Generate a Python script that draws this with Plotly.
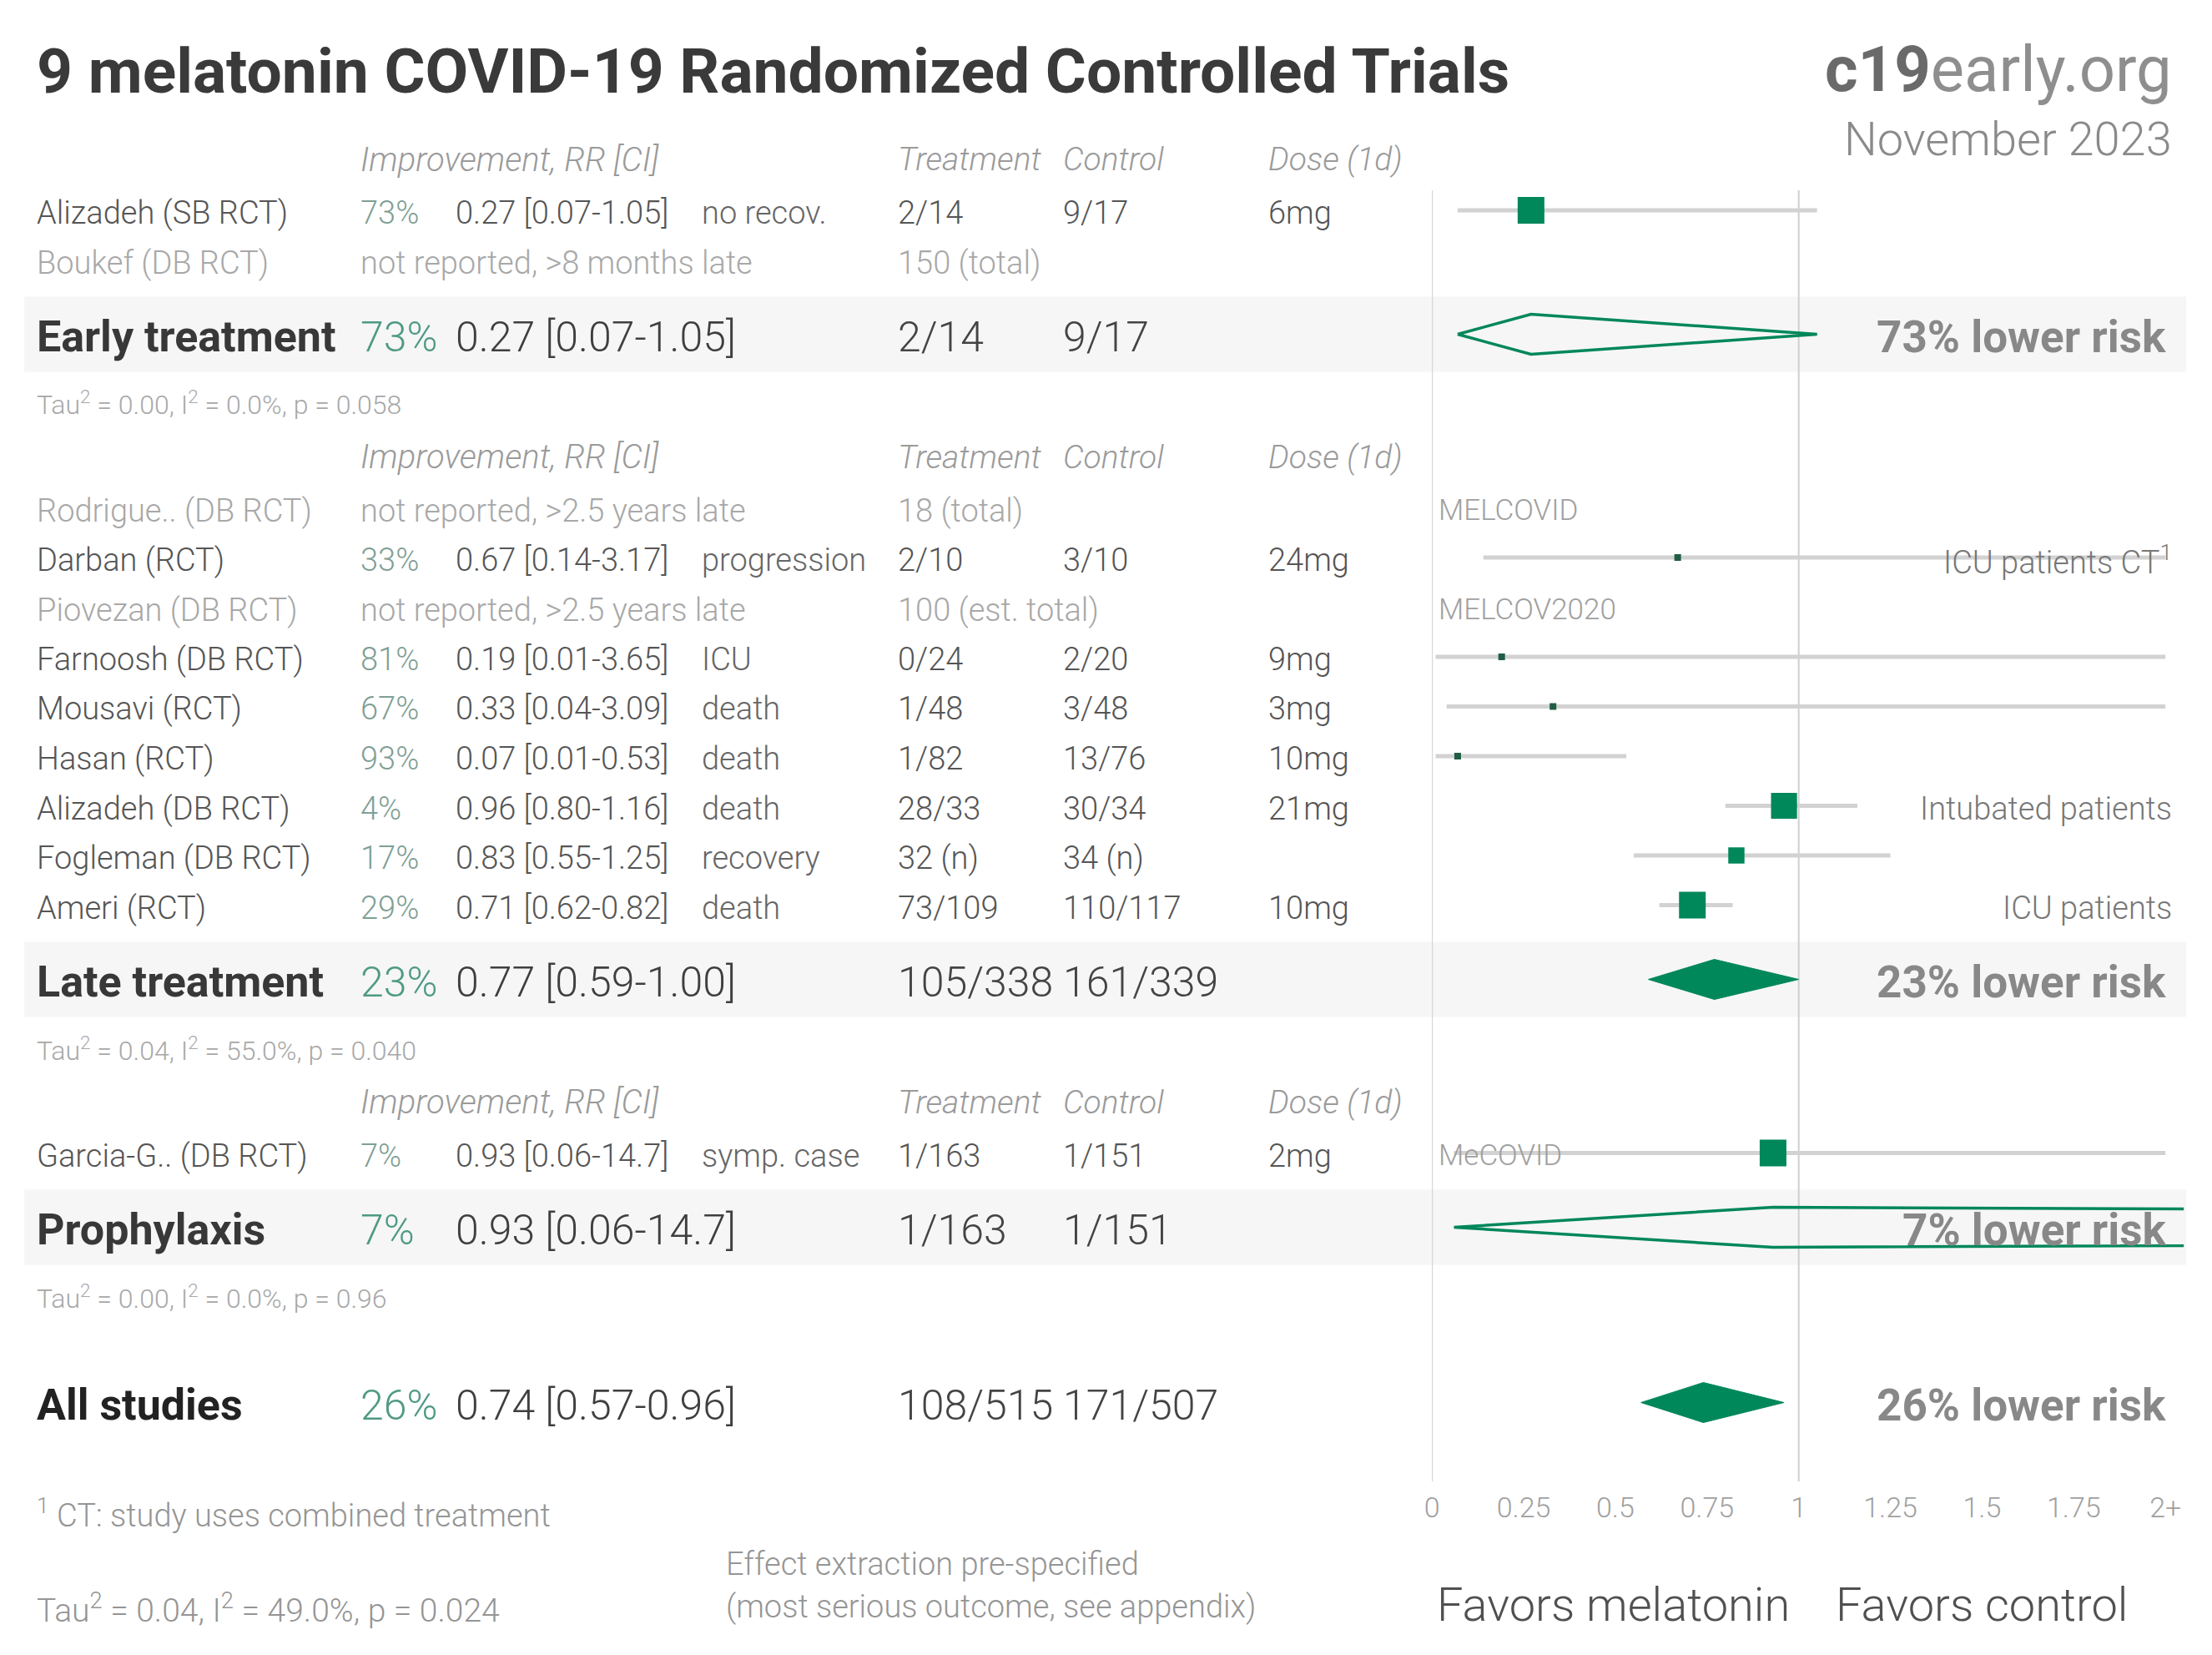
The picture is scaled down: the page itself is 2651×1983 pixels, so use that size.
import plotly.graph_objects as go

W, H = 2651, 1983

# ---------------- data ----------------
study_names = ["Alizadeh (SB RCT)", "Boukef (DB RCT)",
               "Rodrigue.. (DB RCT)", "Darban (RCT)", "Piovezan (DB RCT)", "Farnoosh (DB RCT)",
               "Mousavi (RCT)", "Hasan (RCT)", "Alizadeh (DB RCT)", "Fogleman (DB RCT)", "Ameri (RCT)",
               "Garcia-G.. (DB RCT)"]
study_group = [0, 0, 1, 1, 1, 1, 1, 1, 1, 1, 1, 2]
study_impr = ["73%", "", "", "33%", "", "81%", "67%", "93%", "4%", "17%", "29%", "7%"]
study_rr = [0.27, None, None, 0.67, None, 0.19, 0.33, 0.07, 0.96, 0.83, 0.71, 0.93]
study_lo = [0.07, None, None, 0.14, None, 0.01, 0.04, 0.01, 0.80, 0.55, 0.62, 0.06]
study_hi = [1.05, None, None, 3.17, None, 3.65, 3.09, 0.53, 1.16, 1.25, 0.82, 14.7]
study_outcome = ["no recov.", "", "", "progression", "", "ICU", "death", "death", "death",
                 "recovery", "death", "symp. case"]
study_treat = ["2/14", "150 (total)", "18 (total)", "2/10", "100 (est. total)", "0/24", "1/48",
               "1/82", "28/33", "32 (n)", "73/109", "1/163"]
study_ctrl = ["9/17", "", "", "3/10", "", "2/20", "3/48", "13/76", "30/34", "34 (n)", "110/117", "1/151"]
study_dose = ["6mg", "", "", "24mg", "", "9mg", "3mg", "10mg", "21mg", "", "10mg", "2mg"]
study_pending = ["", "not reported, >8 months late", "not reported, >2.5 years late", "",
                 "not reported, >2.5 years late", "", "", "", "", "", "", ""]
study_trial = ["", "", "MELCOVID", "", "MELCOV2020", "", "", "", "", "", "", "MeCOVID"]
study_note = ["", "", "", "ICU patients CT<sup>1</sup>", "", "", "", "", "Intubated patients", "",
              "ICU patients", ""]
study_weight = [100, 0, 0, 1.5, 0, 0.8, 1.2, 1.5, 36, 14, 38, 100]

group_names = ["Early treatment", "Late treatment", "Prophylaxis", "All studies"]
group_impr = ["73%", "23%", "7%", "26%"]
group_rr = [0.27, 0.77, 0.93, 0.74]
group_lo = [0.07, 0.59, 0.06, 0.57]
group_hi = [1.05, 1.00, 14.7, 0.96]
group_treat = ["2/14", "105/338", "1/163", "108/515"]
group_ctrl = ["9/17", "161/339", "1/151", "171/507"]
group_risk = ["73% lower risk", "23% lower risk", "7% lower risk", "26% lower risk"]
group_tau2 = ["0.00", "0.04", "0.00", "0.04"]
group_i2 = ["0.0%", "55.0%", "0.0%", "49.0%"]
group_p = [0.058, 0.040, 0.96, 0.024]
group_p_text = ["0.058", "0.040", "0.96", "0.024"]

tick_vals = [0, 0.25, 0.5, 0.75, 1, 1.25, 1.5, 1.75, 2]
tick_text = ["0", "0.25", "0.5", "0.75", "1", "1.25", "1.5", "1.75", "2+"]

title_text = "9 melatonin COVID-19 Randomized Controlled Trials"
col_headers = ["Improvement, RR [CI]", "Treatment", "Control", "Dose (1d)"]

# ---------------- layout helpers ----------------
FONT = "Roboto, 'Noto Sans', sans-serif"
GREEN = "#00875a"
TX = -9  # text side-bearing compensation
TY = 3   # text baseline compensation
X_NAME, X_IMPR, X_RR, X_OUT, X_TRT, X_CTL, X_DOSE = 42, 431, 546, 842, 1078, 1276, 1523
X_AXIS0, PX_PER_UNIT = 1713, 441
AX_MAX = 2.05
PLOT_BOTTOM = 1775
ROW_FONT = 38
SUM_FONT = 50
LIGHT = 300

annotations = []


def ann(text, x, y, size, color, anchor="left", bold=False, italic=False, weight=LIGHT):
    if not text:
        return
    if bold:
        weight = 700
    if italic:
        text = "<i>" + text + "</i>"
    annotations.append(dict(text=text, x=(x + TX) / W, y=1 - (y + TY) / H, xref="paper", yref="paper",
                            xanchor=anchor, yanchor="middle", showarrow=False,
                            font=dict(family=FONT, size=size, color=color, weight=weight)))


# row positions
study_y = []
header_y = []
summary_y = []
tau_y = []
y = 188
for g in range(3):
    header_y.append(y)
    y += 64
    members = [i for i, gg in enumerate(study_group) if gg == g]
    for i in members:
        study_y.append(y)
        y += 59.5
    y -= 59.5
    summary_y.append(y + 89)
    tau_y.append(y + 89 + 80)
    y = y + 89 + 80 + 64
summary_y.append(tau_y[-1] + 130)

fig = go.Figure()

shapes = []
# summary bands
for g in range(3):
    shapes.append(dict(type="rect", xref="paper", yref="paper", x0=20 / W, x1=2620 / W,
                       y0=1 - (summary_y[g] - 45) / H, y1=1 - (summary_y[g] + 45) / H,
                       fillcolor="#f6f6f6", line=dict(width=0), layer="below"))
# reference lines at 0 and 1
for xv in (0, 1):
    shapes.append(dict(type="line", xref="x", yref="y", x0=xv, x1=xv, y0=228, y1=PLOT_BOTTOM,
                       line=dict(color="#cfcfcf", width=2), layer="below"))

# ---------------- text: header ----------------
ann(title_text, 42, 82, 75, "#3a3a3a", bold=True)
ann("<span style='color:#6a6a6a;font-weight:700'>c19</span>early.org", 2614, 80, 76, "#8e8e8e",
    anchor="right", weight=400)
ann("November 2023", 2614, 164, 56, "#8a8a8a", anchor="right")

for g in range(3):
    hy = header_y[g]
    ann(col_headers[0], X_IMPR, hy, 40, "#9a9a9a", italic=True)
    ann(col_headers[1], X_TRT, hy, 39, "#9a9a9a", italic=True)
    ann(col_headers[2], X_CTL, hy, 39, "#9a9a9a", italic=True)
    ann(col_headers[3], X_DOSE, hy, 39, "#9a9a9a", italic=True)

# ---------------- study rows ----------------
for i, name in enumerate(study_names):
    yy = study_y[i]
    if study_pending[i]:
        ann(name, X_NAME, yy, ROW_FONT, "#a8a8a8")
        ann(study_pending[i], X_IMPR, yy, ROW_FONT, "#a8a8a8")
        ann(study_treat[i], X_TRT, yy, ROW_FONT, "#a8a8a8")
    else:
        hi = study_hi[i]
        hi_txt = f"{hi:.3g}" if hi >= 10 else f"{hi:.2f}"
        ann(name, X_NAME, yy, ROW_FONT, "#555555")
        ann(study_impr[i], X_IMPR, yy, ROW_FONT, "#7f9f95")
        ann(f"{study_rr[i]:.2f} [{study_lo[i]:.2f}-{hi_txt}]", X_RR, yy, ROW_FONT, "#555555")
        ann(study_outcome[i], X_OUT, yy, ROW_FONT, "#666666")
        ann(study_treat[i], X_TRT, yy, ROW_FONT, "#555555")
        ann(study_ctrl[i], X_CTL, yy, ROW_FONT, "#555555")
        ann(study_dose[i], X_DOSE, yy, ROW_FONT, "#555555")
    if study_trial[i]:
        ann(study_trial[i], 1728, yy, 35, "#a0a0a0")
    if study_note[i]:
        ann(study_note[i], 2614, yy, ROW_FONT, "#777777", anchor="right")

# ---------------- summary rows ----------------
for g in range(4):
    yy = summary_y[g]
    ann(group_names[g], X_NAME, yy, 52, "#222222" if g == 3 else "#383838", bold=True)
    ann(group_impr[g], X_IMPR, yy, SUM_FONT, "#4f9a84")
    hi = group_hi[g]
    hi_txt = f"{hi:.3g}" if hi >= 10 else f"{hi:.2f}"
    ann(f"{group_rr[g]:.2f} [{group_lo[g]:.2f}-{hi_txt}]", X_RR, yy, SUM_FONT, "#3f3f3f")
    ann(group_treat[g], X_TRT, yy, SUM_FONT, "#444444")
    ann(group_ctrl[g], X_CTL, yy, SUM_FONT, "#444444")
    ann(group_risk[g], 2607, yy, 53, "#888888", anchor="right", bold=True)
    tau = f"Tau<sup>2</sup> = {group_tau2[g]}, I<sup>2</sup> = {group_i2[g]}, p = {group_p_text[g]}"
    if g < 3:
        ann(tau, X_NAME, tau_y[g], 32, "#a8a8a8")
    else:
        ann(tau, X_NAME, 1924, 39, "#959595")

# ---------------- footer ----------------
ann("<sup>1</sup> CT: study uses combined treatment", 42, 1810, 38, "#959595")
ann("Effect extraction pre-specified", 871, 1871, 38, "#959595")
ann("(most serious outcome, see appendix)", 871, 1922, 38, "#959595")
ann("Favors melatonin", 2154, 1920, 56, "#505050", anchor="right")
ann("Favors control", 2205, 1920, 56, "#505050")

# ---------------- forest marks ----------------
wmax = {}
for i, g in enumerate(study_group):
    wmax[g] = max(wmax.get(g, 0), study_weight[i])

for i in range(len(study_names)):
    if study_rr[i] is None:
        continue
    yy = study_y[i]
    fig.add_trace(go.Scatter(x=[study_lo[i], min(study_hi[i], 2.0)], y=[yy, yy], mode="lines",
                             line=dict(color="#d2d2d2", width=5), hoverinfo="skip", showlegend=False))
for i in range(len(study_names)):
    if study_rr[i] is None:
        continue
    size = max(8, 32 * (study_weight[i] / wmax[study_group[i]]) ** 0.5)
    fig.add_trace(go.Scatter(x=[study_rr[i]], y=[study_y[i]], mode="markers",
                             marker=dict(symbol="square", size=size,
                                         color=GREEN if size > 10 else "#1f5e45",
                                         line=dict(width=0)),
                             hoverinfo="skip", showlegend=False))

HALF = 24
for g in range(4):
    yy = summary_y[g]
    lo, mid, hi = group_lo[g], group_rr[g], group_hi[g]
    xs = [lo, mid, hi, mid, lo]
    ys = [yy, yy - HALF, yy, yy + HALF, yy]
    filled = group_p[g] < 0.05
    fig.add_trace(go.Scatter(x=xs, y=ys, mode="lines", fill="toself" if filled else None,
                             fillcolor=GREEN if filled else None,
                             line=dict(color=GREEN, width=1 if filled else 3.5),
                             hoverinfo="skip", showlegend=False))

fig.update_layout(
    width=W, height=H,
    margin=dict(l=0, r=0, t=0, b=0, pad=0),
    paper_bgcolor="white", plot_bgcolor="rgba(0,0,0,0)",
    xaxis=dict(domain=[X_AXIS0 / W, (X_AXIS0 + AX_MAX * PX_PER_UNIT) / W], range=[0, AX_MAX],
               showgrid=False, zeroline=False, showline=False, ticks="",
               tickvals=tick_vals, ticktext=tick_text, ticklabelstandoff=8,
               tickfont=dict(family=FONT, size=34, color="#a0a0a0", weight=LIGHT), fixedrange=True),
    yaxis=dict(domain=[(H - PLOT_BOTTOM) / H, 1], range=[PLOT_BOTTOM, 0], visible=False,
               fixedrange=True),
    shapes=shapes,
    annotations=annotations,
    showlegend=False,
)

fig.write_html("out.html", config={"displayModeBar": False},
               post_script="document.body.style.margin='0';")
